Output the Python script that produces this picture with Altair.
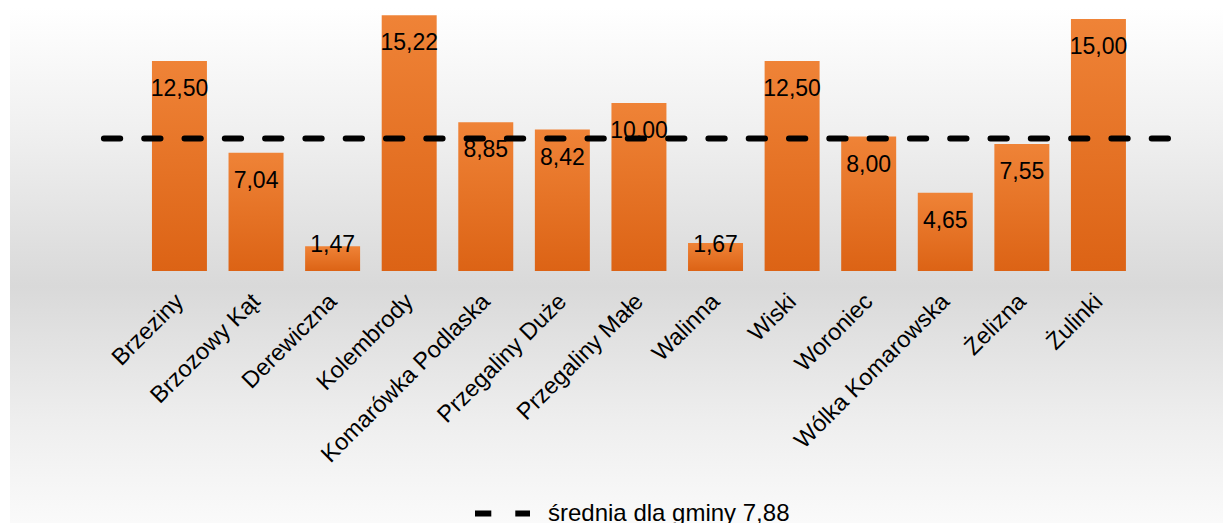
import altair as alt
import pandas as pd

places = ["Brzeziny", "Brzozowy Kąt", "Derewiczna", "Kolembrody", "Komarówka Podlaska",
          "Przegaliny Duże", "Przegaliny Małe", "Walinna", "Wiski", "Woroniec",
          "Wólka Komarowska", "Żelizna", "Żulinki"]
values = [12.50, 7.04, 1.47, 15.22, 8.85, 8.42, 10.00, 1.67, 12.50, 8.00, 4.65, 7.55, 15.00]
avg_value = [7.88]
avg_name = ["średnia dla gminy 7,88"]

FONT = "Liberation Sans"

df = pd.DataFrame({"place": places, "v": values})
avg_df = pd.DataFrame({"avg": avg_value, "series": avg_name})

xscale = alt.Scale(domain=places, paddingInner=0.282, paddingOuter=0.64, align=0.53)
yscale = alt.Scale(domain=[0, 15.65], nice=False, zero=True)

bg = alt.Chart(pd.DataFrame({"d": [0]})).mark_rect(
    color=alt.Gradient(
        gradient="linear", x1=0, x2=0, y1=0, y2=1,
        stops=[
            alt.GradientStop(offset=0, color="#ffffff"),
            alt.GradientStop(offset=0.25, color="#efefef"),
            alt.GradientStop(offset=0.54, color="#d9d9d9"),
            alt.GradientStop(offset=0.8, color="#eeeeee"),
            alt.GradientStop(offset=1, color="#fafafa"),
        ],
    )
).encode(x=alt.value(-90), x2=alt.value(1123), y=alt.value(0), y2=alt.value(515))

bars = alt.Chart(df).mark_bar(
    color=alt.Gradient(
        gradient="linear", x1=0, x2=0, y1=0, y2=1,
        stops=[
            alt.GradientStop(offset=0, color="#ef8337"),
            alt.GradientStop(offset=1, color="#dc6315"),
        ],
    )
).encode(
    x=alt.X("place:N", scale=xscale, sort=places,
            axis=alt.Axis(title=None, labelAngle=-45, labelAlign="right", labelBaseline="top",
                          labelFontSize=23.5, labelFont=FONT, labelColor="#000000",
                          labelPadding=18, labelOffset=-8, labelLimit=0, labelOverlap=False,
                          ticks=False, domain=False, grid=False, zindex=2)),
    y=alt.Y("v:Q", scale=yscale, axis=None),
)

labels = alt.Chart(df).transform_calculate(
    lab="max(datum.v - 1.667, 1.548)",
    txt="replace(format(datum.v, '.2f'), '.', ',')",
).mark_text(fontSize=23, font=FONT, color="#000000", baseline="middle", align="center").encode(
    x=alt.X("place:N", scale=xscale, sort=places),
    y=alt.Y("lab:Q", scale=yscale),
    text="txt:N",
)

rule = alt.Chart(avg_df).mark_rule(strokeWidth=6, strokeCap="round", color="#000000",
                                   strokeDashOffset=36.3).encode(
    y=alt.Y("avg:Q", scale=yscale),
    strokeDash=alt.StrokeDash(
        "series:N",
        scale=alt.Scale(domain=avg_name, range=[[16.3, 24]]),
        legend=alt.Legend(
            title=None, orient="none", legendX=372, legendY=475,
            symbolType="stroke", symbolSize=3025, symbolStrokeWidth=6,
            symbolStrokeColor="#000000", labelFontSize=24, labelFont=FONT,
            labelColor="#000000", labelOffset=15, labelLimit=0, zindex=2,
        ),
    ),
)

chart = alt.layer(bg, bars, labels, rule).properties(
    width=1072, height=263,
    autosize=alt.AutoSizeParams(type="none"),
    padding={"left": 92, "top": 0, "right": 51, "bottom": 252},
).configure_view(strokeOpacity=0)

chart.save("out.html", embed_options={"renderer": "svg", "actions": False})
